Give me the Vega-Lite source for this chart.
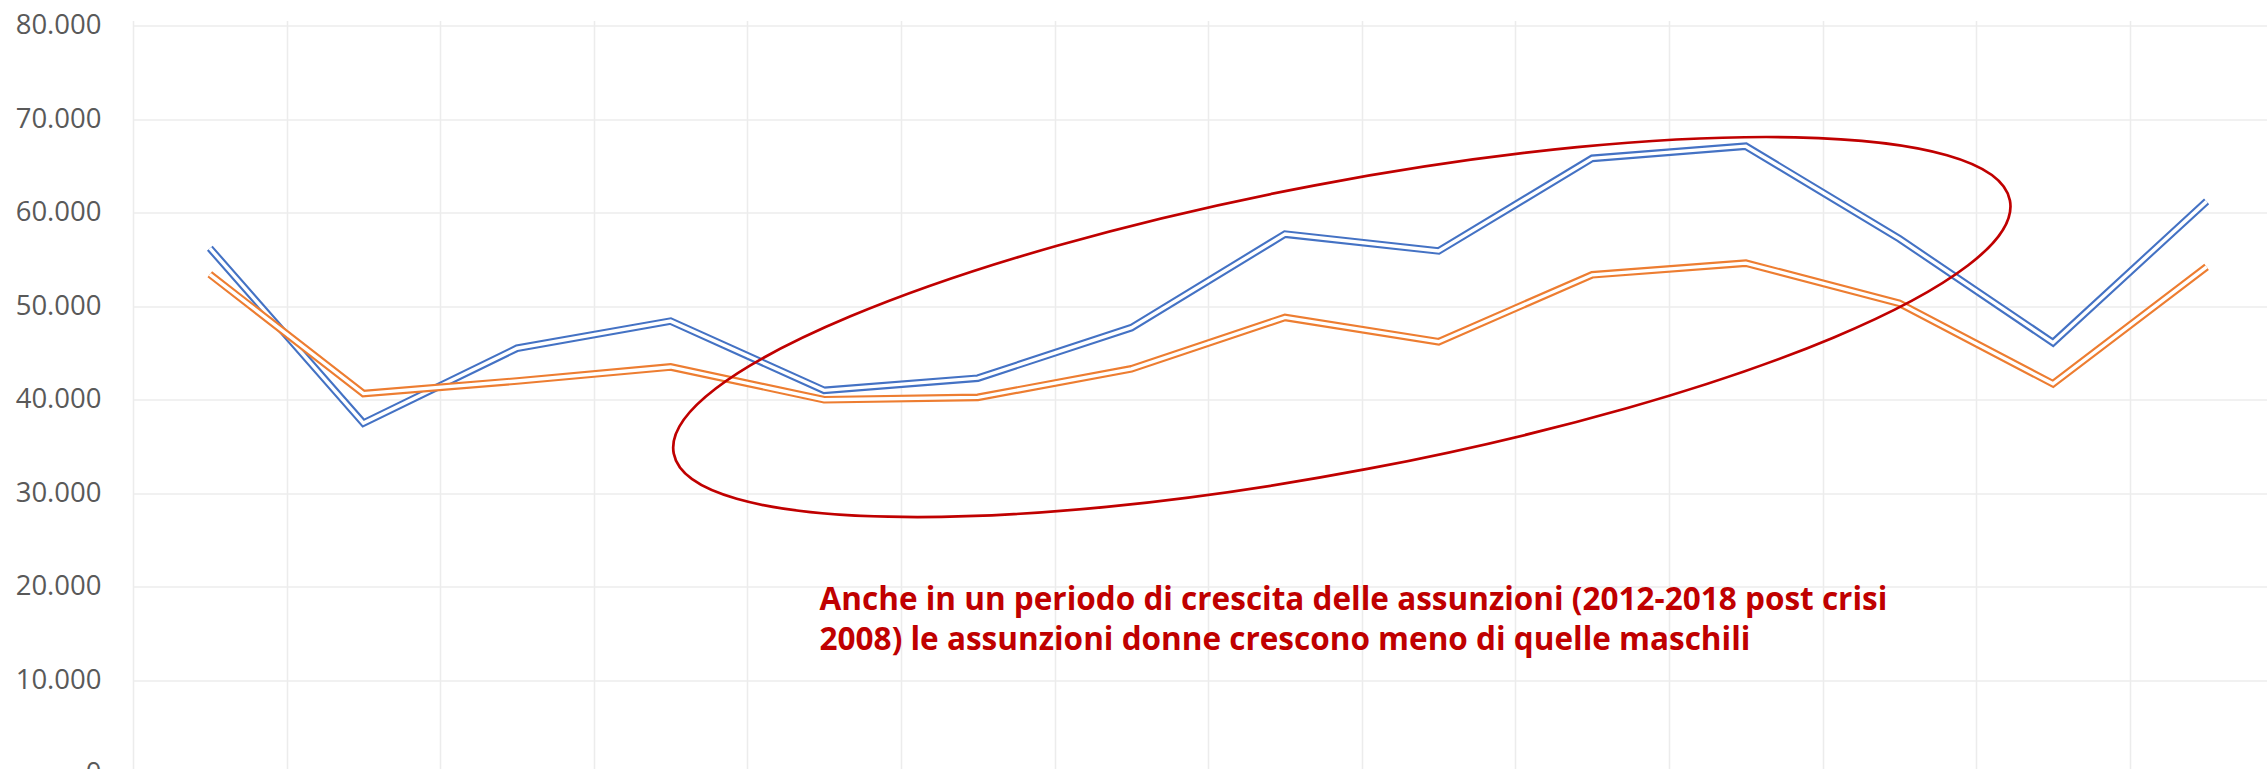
{
  "$schema": "https://vega.github.io/schema/vega-lite/v6.json",
  "autosize": {"type": "none"},
  "padding": {"left": 133, "top": 25.5, "right": 0, "bottom": 0},
  "width": 2134,
  "height": 743.5,
  "background": "white",
  "config": {"view": {"stroke": null}},
  "datasets": {
    "assunzioni": [
      {"year": 2008, "serie": "Maschi", "value": 56200},
      {"year": 2009, "serie": "Maschi", "value": 37500},
      {"year": 2010, "serie": "Maschi", "value": 45500},
      {"year": 2011, "serie": "Maschi", "value": 48400},
      {"year": 2012, "serie": "Maschi", "value": 41000},
      {"year": 2013, "serie": "Maschi", "value": 42300},
      {"year": 2014, "serie": "Maschi", "value": 47700},
      {"year": 2015, "serie": "Maschi", "value": 57700},
      {"year": 2016, "serie": "Maschi", "value": 55900},
      {"year": 2017, "serie": "Maschi", "value": 65800},
      {"year": 2018, "serie": "Maschi", "value": 67100},
      {"year": 2019, "serie": "Maschi", "value": 57200},
      {"year": 2020, "serie": "Maschi", "value": 46100},
      {"year": 2021, "serie": "Maschi", "value": 61200},
      {"year": 2008, "serie": "Femmine", "value": 53400},
      {"year": 2009, "serie": "Femmine", "value": 40650},
      {"year": 2010, "serie": "Femmine", "value": 42000},
      {"year": 2011, "serie": "Femmine", "value": 43500},
      {"year": 2012, "serie": "Femmine", "value": 40000},
      {"year": 2013, "serie": "Femmine", "value": 40250},
      {"year": 2014, "serie": "Femmine", "value": 43300},
      {"year": 2015, "serie": "Femmine", "value": 48800},
      {"year": 2016, "serie": "Femmine", "value": 46200},
      {"year": 2017, "serie": "Femmine", "value": 53350},
      {"year": 2018, "serie": "Femmine", "value": 54600},
      {"year": 2019, "serie": "Femmine", "value": 50300},
      {"year": 2020, "serie": "Femmine", "value": 41700},
      {"year": 2021, "serie": "Femmine", "value": 54200}
    ],
    "ellisse": [
      {"year": 2015.37, "value": 47770}
    ],
    "nota": [
      {"year": 2011.97, "value": 17520, "label": "Anche in un periodo di crescita delle assunzioni (2012-2018 post crisi\n2008) le assunzioni donne crescono meno di quelle maschili"}
    ]
  },
  "encoding": {
    "x": {
      "field": "year", "type": "quantitative",
      "scale": {"domain": [2007.5, 2021.5], "range": [0, 2150.4], "nice": false, "zero": false},
      "axis": {
        "values": [2007.5, 2008.5, 2009.5, 2010.5, 2011.5, 2012.5, 2013.5, 2014.5, 2015.5, 2016.5, 2017.5, 2018.5, 2019.5, 2020.5],
        "grid": true, "gridColor": "#ECECEC", "gridWidth": 1.5,
        "labels": false, "ticks": false, "domain": false, "title": null
      }
    },
    "y": {
      "field": "value", "type": "quantitative",
      "scale": {"domain": [0, 80000], "range": [748.4, 0], "nice": false, "zero": true},
      "axis": {
        "values": [0, 10000, 20000, 30000, 40000, 50000, 60000, 70000, 80000],
        "labelExpr": "replace(format(datum.value, ','), ',', '.')",
        "grid": true, "gridColor": "#ECECEC", "gridWidth": 1.5,
        "ticks": false, "domain": false, "title": null,
        "labelFont": "Open Sans", "labelFontSize": 27.5, "labelColor": "#595959",
        "labelPadding": 32, "labelBaseline": "middle"
      }
    }
  },
  "layer": [
    {
      "data": {"name": "assunzioni"},
      "transform": [{"filter": "datum.serie === 'Maschi'"}],
      "mark": {"type": "line", "color": "#4472C4", "strokeWidth": 7.6, "strokeJoin": "miter", "strokeCap": "butt"},
      "encoding": {}
    },
    {
      "data": {"name": "assunzioni"},
      "transform": [{"filter": "datum.serie === 'Maschi'"}],
      "mark": {"type": "line", "color": "white", "strokeWidth": 3.4, "strokeJoin": "miter", "strokeCap": "butt"},
      "encoding": {}
    },
    {
      "data": {"name": "assunzioni"},
      "transform": [{"filter": "datum.serie === 'Femmine'"}],
      "mark": {"type": "line", "color": "#ED7D31", "strokeWidth": 7.6, "strokeJoin": "miter", "strokeCap": "butt"},
      "encoding": {}
    },
    {
      "data": {"name": "assunzioni"},
      "transform": [{"filter": "datum.serie === 'Femmine'"}],
      "mark": {"type": "line", "color": "white", "strokeWidth": 3.4, "strokeJoin": "miter", "strokeCap": "butt"},
      "encoding": {}
    },
    {
      "data": {"name": "ellisse"},
      "mark": {
        "type": "point",
        "shape": "M 0.9714,0 C 0.9714,0.1138 0.5365,0.206 0,0.206 C -0.5365,0.206 -0.9714,0.1138 -0.9714,0 C -0.9714,-0.1138 -0.5365,-0.206 0,-0.206 C 0.5365,-0.206 0.9714,-0.1138 0.9714,0 Z",
        "size": 1960000,
        "angle": 349.27,
        "filled": false,
        "stroke": "#C00000",
        "strokeWidth": 2.7,
        "opacity": 1
      }
    },
    {
      "data": {"name": "nota"},
      "mark": {
        "type": "text",
        "align": "left",
        "baseline": "alphabetic",
        "lineBreak": "\n",
        "lineHeight": 40,
        "font": "Open Sans",
        "fontSize": 31.5,
        "fontWeight": "bold",
        "color": "#C00000"
      },
      "encoding": {"text": {"field": "label"}}
    }
  ]
}
